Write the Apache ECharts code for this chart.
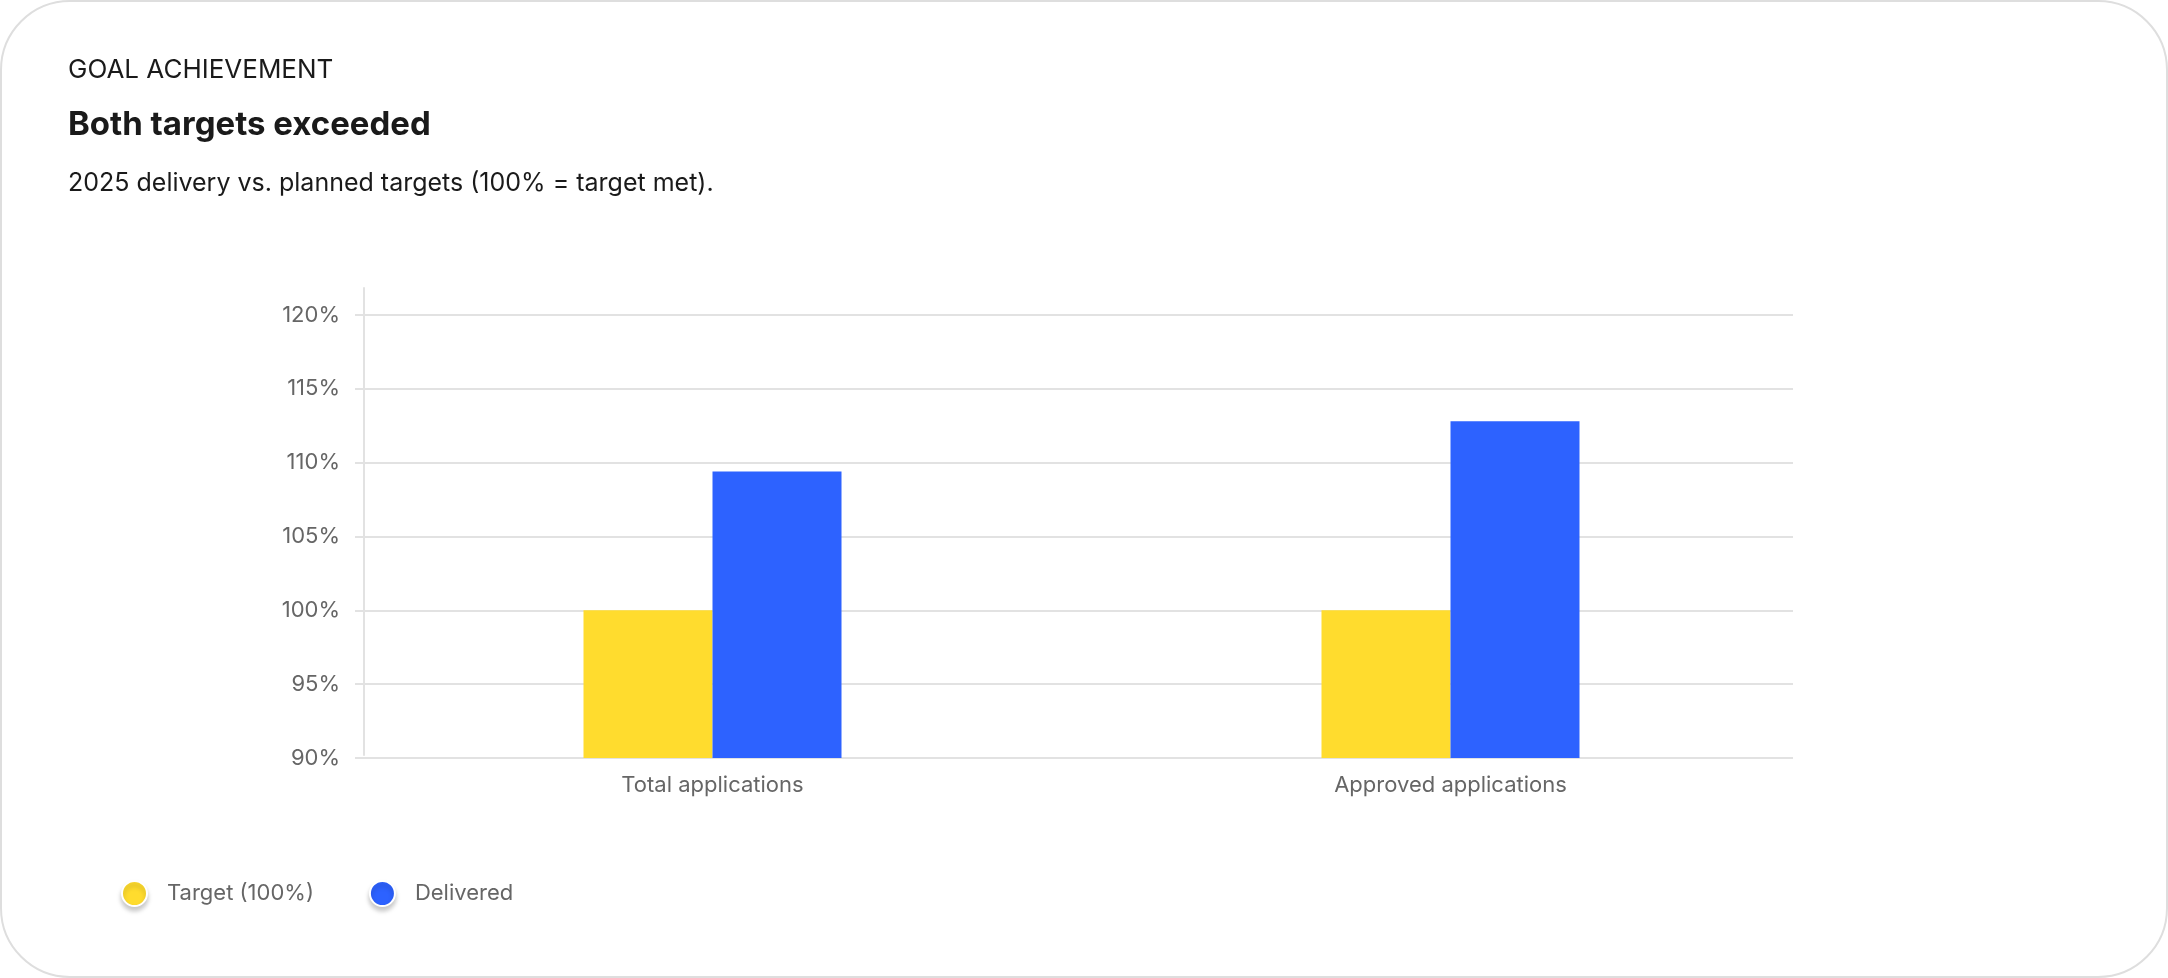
<!DOCTYPE html>
<html>
<head>
<meta charset="utf-8">
<script src="https://cdn.jsdelivr.net/npm/echarts@6/dist/echarts.min.js"></script>
<style>
html,body{margin:0;padding:0;background:#ffffff;width:2168px;height:978px;overflow:hidden;}
#card{position:absolute;left:0;top:0;width:2168px;height:978px;box-sizing:border-box;border:2px solid #dedede;border-radius:70px;background:#fff;}
#chart{position:absolute;left:0;top:0;width:2168px;height:978px;}
</style>
</head>
<body>
<div id="card"></div>
<div id="chart"></div>
<script>
const categories = ['Total applications', 'Approved applications'];
const targetValues = [100, 100];
const deliveredValues = [109.4, 112.8];
const seriesNames = ['Target (100%)', 'Delivered'];
const yMin = 90, yMax = 120, yStep = 5;

const FONT = 'Inter, "Noto Sans", sans-serif';
const chart = echarts.init(document.getElementById('chart'));
chart.setOption({
  animation: false,
  textStyle: { fontFamily: FONT },
  title: [
    { text: 'GOAL ACHIEVEMENT', left: 68, top: 54, padding: 0, textStyle: { fontFamily: FONT, fontSize: 26, fontWeight: 400, color: '#1a1a1a', lineHeight: 32 } },
    { text: 'Both targets exceeded', left: 68, top: 104, padding: 0, textStyle: { fontFamily: FONT, fontSize: 33, fontWeight: 700, color: '#1a1a1a', lineHeight: 42 } },
    { text: '2025 delivery vs. planned targets (100% = target met).', left: 68, top: 167, padding: 0, textStyle: { fontFamily: FONT, fontSize: 25, fontWeight: 400, color: '#1a1a1a', lineHeight: 32 } }
  ],
  legend: {
    left: 121, top: 880, padding: 0,
    icon: 'circle', itemWidth: 25, itemHeight: 25, itemGap: 55,
    data: seriesNames,
    itemStyle: { borderColor: '#ffffff', borderWidth: 2, shadowColor: 'rgba(0,0,0,0.22)', shadowBlur: 5, shadowOffsetY: 4 },
    textStyle: { fontFamily: FONT, fontSize: 22, color: '#666666', padding: [0, 0, 0, 15] }
  },
  grid: [
    { left: 355, right: 375, top: 315, bottom: 220 },
    { left: 364, right: 375, top: 288, bottom: 223 },
    { left: 343.5, right: 348.5, top: 315, bottom: 220 }
  ],
  xAxis: [
    { gridIndex: 0, type: 'category', data: categories, show: false },
    { gridIndex: 1, type: 'category', data: categories, show: false },
    { gridIndex: 2, type: 'category', data: categories,
      axisLine: { show: false }, axisTick: { show: false },
      axisLabel: { fontFamily: FONT, fontSize: 22, color: '#666666', margin: 16 } }
  ],
  yAxis: [
    { gridIndex: 0, type: 'value', min: yMin, max: yMax, interval: yStep,
      axisLine: { show: false }, axisTick: { show: false },
      splitLine: { show: true, lineStyle: { color: '#e2e2e2', width: 2 } },
      axisLabel: { fontFamily: FONT, fontSize: 22, color: '#666666', margin: 15, formatter: v => v + '%' } },
    { gridIndex: 1, type: 'value', min: yMin, max: yMax,
      axisLine: { show: true, lineStyle: { color: '#e2e2e2', width: 2 } },
      axisTick: { show: false }, axisLabel: { show: false }, splitLine: { show: false } },
    { gridIndex: 2, type: 'value', min: yMin, max: yMax, interval: yStep, show: false, splitLine: { show: false } }
  ],
  series: [
    { name: seriesNames[0], type: 'bar', xAxisIndex: 2, yAxisIndex: 2, data: targetValues,
      barWidth: 129, barGap: '0%', itemStyle: { color: '#FFDC2E' } },
    { name: seriesNames[1], type: 'bar', xAxisIndex: 2, yAxisIndex: 2, data: deliveredValues,
      barWidth: 129, barGap: '0%', itemStyle: { color: '#2D62FF' } }
  ]
});
</script>
</body>
</html>
